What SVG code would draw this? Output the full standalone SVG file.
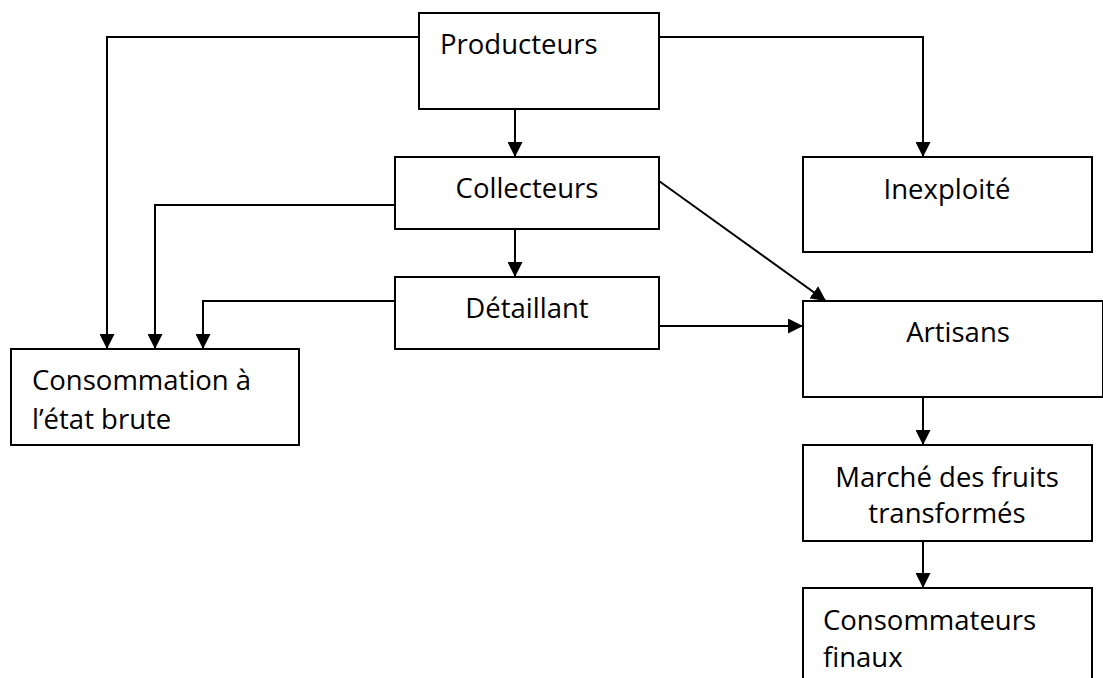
<svg xmlns="http://www.w3.org/2000/svg" width="1103" height="678" viewBox="0 0 1103 678">
<style>
.box{fill:#fff;stroke:#000;stroke-width:2}
.t{font-family:"Open Sans","Noto Sans",sans-serif;font-size:27.5px;fill:#000}
.c{text-anchor:middle}
.edge{fill:none;stroke:#000;stroke-width:2}
</style>
<defs>
<marker id="ah" markerUnits="userSpaceOnUse" viewBox="0 0 15 15" markerWidth="15" markerHeight="15" refX="15" refY="7.5" orient="auto">
<path d="M0,0 L15,7.5 L0,15 z" fill="#000"/>
</marker>
</defs>
<rect width="1103" height="678" fill="#fff"/>
<g id="connectors">
<path class="edge" d="M419,37 H107 V349" marker-end="url(#ah)"/>
<path class="edge" d="M659,37 H923 V157" marker-end="url(#ah)"/>
<path class="edge" d="M515,109 V157" marker-end="url(#ah)"/>
<path class="edge" d="M395,205 H155 V349" marker-end="url(#ah)"/>
<path class="edge" d="M515,229 V277" marker-end="url(#ah)"/>
<path class="edge" d="M395,301 H203 V349" marker-end="url(#ah)"/>
<path class="edge" d="M659,326 H803" marker-end="url(#ah)"/>
<path class="edge" d="M659,181 L826,301" marker-end="url(#ah)"/>
<path class="edge" d="M923,397 V445" marker-end="url(#ah)"/>
<path class="edge" d="M923,541 V588" marker-end="url(#ah)"/>
</g>
<g id="producteurs">
<rect class="box" x="419" y="13" width="240" height="96"/>
<text class="t" x="440" y="54">Producteurs</text>
</g>
<g id="collecteurs">
<rect class="box" x="395" y="157" width="264" height="72"/>
<text class="t c" x="527" y="198">Collecteurs</text>
</g>
<g id="detaillant">
<rect class="box" x="395" y="277" width="264" height="72"/>
<text class="t c" x="527" y="318">Détaillant</text>
</g>
<g id="inexploite">
<rect class="box" x="803" y="157" width="289" height="95"/>
<text class="t c" x="947" y="199">Inexploité</text>
</g>
<g id="artisans">
<rect class="box" x="803" y="301" width="300" height="96"/>
<text class="t c" x="958" y="342">Artisans</text>
</g>
<g id="marche">
<rect class="box" x="803" y="445" width="289" height="96"/>
<text class="t c" x="947" y="487">Marché des fruits</text>
<text class="t c" x="947" y="523">transformés</text>
</g>
<g id="consommateurs">
<rect class="box" x="803" y="588" width="289" height="100"/>
<text class="t" x="823" y="630">Consommateurs</text>
<text class="t" x="823" y="667">finaux</text>
</g>
<g id="consommation">
<rect class="box" x="11" y="349" width="288" height="96"/>
<text class="t" x="32" y="390">Consommation à</text>
<text class="t" x="32" y="429">l’état brute</text>
</g>
</svg>
